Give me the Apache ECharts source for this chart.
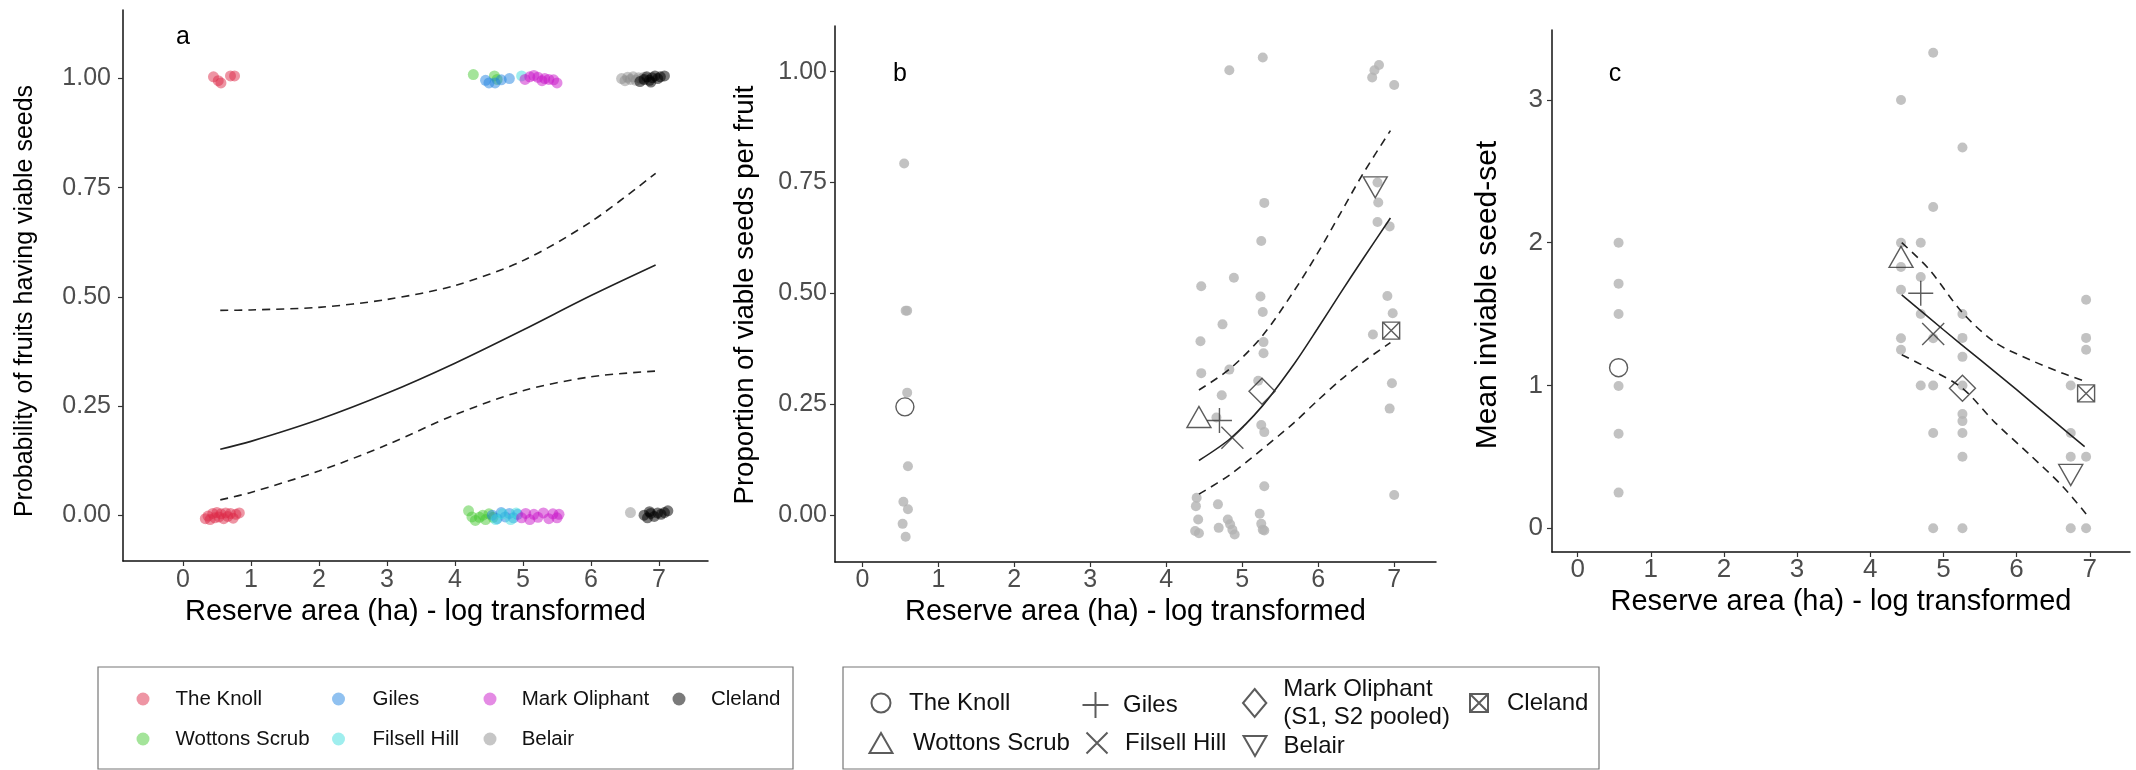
<!DOCTYPE html>
<html><head><meta charset="utf-8">
<script src="https://cdn.jsdelivr.net/npm/echarts@6/dist/echarts.min.js"></script>
<style>html,body{margin:0;padding:0;background:#fff}#c{width:2136px;height:770px}</style>
</head><body><div id="c"></div>
<script>
// ---------- DATA ----------
const sites = ['The Knoll','Wottons Scrub','Giles','Filsell Hill','Mark Oliphant','Belair','Cleland'];
const xTicks = [0,1,2,3,4,5,6,7];
const yTicksProb = [0,0.25,0.5,0.75,1];
const yTicksSeed = [0,1,2,3];

// Panel a: jittered binary outcomes [log area, outcome]
const jitKnoll = [[0.45,1.004],[0.52,0.995],[0.56,0.99],[0.70,1.006],[0.76,1.006],
  [0.33,-0.008],[0.37,-0.002],[0.40,-0.01],[0.44,0.004],[0.47,-0.006],[0.50,0.006],[0.53,-0.004],[0.56,0.003],
  [0.60,-0.008],[0.63,0.005],[0.66,-0.003],[0.70,0.004],[0.74,-0.007],[0.78,0.002],[0.83,0.005]];
const jitWottons = [[4.27,1.009],[4.58,1.006],[4.62,0.998],
  [4.20,0.01],[4.25,-0.004],[4.30,-0.012],[4.36,-0.005],[4.41,0.0],[4.45,-0.01],[4.50,0.003],[4.56,-0.005]];
const jitGiles = [[4.45,0.996],[4.50,0.99],[4.59,0.99],[4.68,0.997],[4.80,1.0],
  [4.55,0.0],[4.62,-0.008],[4.68,0.006],[4.74,-0.004],[4.80,0.004],[4.86,-0.006],[4.92,0.002]];
const jitFilsell = [[4.98,1.006],[4.60,-0.01],[4.70,0.003],[4.82,-0.01],[4.90,0.005]];
const jitMark = [[5.03,0.998],[5.10,1.004],[5.16,1.007],[5.22,1.003],[5.28,0.995],[5.32,1.0],[5.38,0.998],[5.45,0.997],[5.50,0.99],
  [4.98,-0.006],[5.04,0.004],[5.10,-0.01],[5.16,0.002],[5.22,-0.005],[5.30,0.005],[5.38,-0.008],[5.44,0.003],[5.50,-0.006],[5.53,0.002]];
const jitBelair = [[6.45,1.0],[6.50,0.995],[6.54,1.003],[6.58,0.998],[6.62,1.004],[6.66,0.996],[6.70,1.002],[6.74,0.999],[6.78,1.003],
  [6.58,0.006]];
const jitCleland = [[6.72,0.993],[6.78,0.998],[6.82,1.004],[6.86,0.996],[6.88,0.992],[6.90,1.002],[6.94,1.006],[6.98,1.0],[7.02,1.004],[7.08,1.006],
  [6.78,0.0],[6.83,-0.006],[6.86,0.008],[6.88,0.004],[6.93,-0.003],[6.98,0.005],[7.03,0.002],[7.08,0.006],[7.13,0.01]];
const jitterA = [jitKnoll, jitWottons, jitGiles, jitFilsell, jitMark, jitBelair, jitCleland];

// Panel a: fitted curve and confidence band
const curveAx = [0.55,1,2,3,4,5,6,6.95];
const curveAfit = [0.151,0.169,0.219,0.279,0.348,0.424,0.503,0.573];
const curveAup  = [0.469,0.47,0.476,0.494,0.526,0.583,0.672,0.783];
const curveAlo  = [0.035,0.052,0.101,0.161,0.23,0.285,0.317,0.33];

// Panel b: proportions per fruit (grey points)
const pointsB = [
  [0.55,0.793],[0.57,0.461],[0.59,0.461],[0.59,0.276],[0.60,0.11],[0.54,0.03],[0.60,0.013],[0.53,-0.02],[0.57,-0.049],
  [4.46,0.516],[4.45,0.392],[4.46,0.32],[4.40,0.039],[4.39,0.02],[4.42,-0.01],[4.38,-0.036],[4.43,-0.041],
  [4.74,0.43],[4.73,0.27],[4.66,0.22],[4.68,0.024],[4.69,-0.029],
  [4.83,1.003],[4.89,0.535],[4.83,0.328],[4.81,-0.01],[4.84,-0.021],[4.87,-0.033],[4.90,-0.044],
  [5.27,1.032],[5.29,0.704],[5.25,0.618],[5.24,0.493],[5.27,0.458],[5.28,0.39],[5.28,0.365],[5.21,0.303],[5.25,0.203],
  [5.29,0.187],[5.29,0.065],[5.23,0.003],[5.25,-0.02],[5.27,-0.033],[5.29,-0.035],
  [6.71,0.987],[6.74,1.003],[6.80,1.015],[6.78,0.75],[6.79,0.705],[6.78,0.661],[6.72,0.407],
  [7.00,0.97],[6.94,0.651],[6.91,0.494],[6.98,0.455],[6.97,0.297],[6.94,0.24],[7.00,0.045]];
// Panel b: site means (in site order)
const meansB = [[0.56,0.244],[4.43,0.221],[4.70,0.213],[4.87,0.174],[5.26,0.279],[6.75,0.739],[6.96,0.416]];
const curveBx = [4.43,4.84,5.26,5.68,5.99,6.29,6.59,6.95];
const curveBfit = [0.123,0.172,0.245,0.34,0.42,0.50,0.578,0.67];
const curveBup  = [0.282,0.33,0.403,0.505,0.59,0.68,0.77,0.867];
const curveBlo  = [0.047,0.091,0.148,0.208,0.258,0.304,0.345,0.389];

// Panel c: mean inviable seed-set (grey points)
const pointsC = [
  [0.56,2.0],[0.56,1.713],[0.56,1.5],[0.56,0.996],[0.56,0.662],[0.56,0.249],
  [4.42,3.0],[4.42,2.0],[4.42,1.83],[4.42,1.67],[4.42,1.33],[4.42,1.25],
  [4.69,2.0],[4.69,1.76],[4.69,1.5],[4.69,1.0],
  [4.86,3.33],[4.86,2.25],[4.86,1.33],[4.86,1.0],[4.86,0.667],[4.86,0],
  [5.26,2.667],[5.26,1.5],[5.26,1.333],[5.26,1.2],[5.26,1.0],[5.26,0.8],[5.26,0.75],[5.26,0.667],[5.26,0.5],[5.26,0],
  [6.74,1.0],[6.74,0.667],[6.74,0.5],[6.74,0],
  [6.95,1.6],[6.95,1.333],[6.95,1.25],[6.95,0.5],[6.95,0]];
const meansC = [[0.56,1.124],[4.42,1.90],[4.69,1.646],[4.86,1.36],[5.26,0.98],[6.74,0.373],[6.95,0.944]];
const curveCx = [4.43,5.0,5.5,6.0,6.5,6.93];
const curveCfit = [1.634,1.39,1.18,0.97,0.755,0.571];
const curveCbx = [4.43,4.8,5.26,5.71,6.19,6.62,6.95];
const curveCup = [2.0,1.816,1.51,1.30,1.178,1.087,1.026];
const curveClo = [1.215,1.118,0.98,0.738,0.51,0.298,0.10];

// ---------- STYLE ----------
const FONT = 'Liberation Sans, Arial, Helvetica, sans-serif';
const siteColors = ['rgba(220,40,70,0.62)','rgba(70,200,50,0.62)','rgba(30,130,225,0.62)','rgba(60,220,220,0.62)',
  'rgba(200,20,200,0.62)','rgba(140,140,140,0.62)','rgba(0,0,0,0.65)'];
const shapes = [
  'circle',
  'path://M0,20L11.5,0L23,20Z',
  'path://M10,0L10,20M0,10L20,10',
  'path://M0,0L20,20M20,0L0,20',
  'path://M10,0L20,12L10,24L0,12Z',
  'path://M0,0L23,0L11.5,20Z',
  'path://M0,0L20,0L20,20L0,20ZM0,0L20,20M20,0L0,20'];
const shapeSizeB = [18,[24,21],25,[22,22],[26,26],[24,21],[17,17]];
const legend2Sizes = [[19,19],[23,22],[28,26],[21,21],[24,28],[23,21],[18,18]];
const legend2Labels = {'The Knoll':'The Knoll','Wottons Scrub':'Wottons Scrub','Giles':'Giles','Filsell Hill':'Filsell Hill',
  'Mark Oliphant':'Mark Oliphant\n(S1, S2 pooled)','Belair':'Belair','Cleland':'Cleland'};

const zip = (xs, ys) => xs.map((x, i) => [x, ys[i]]);
const lineStyleSolid = {color:'#222', width:1.6};
const lineStyleDash = {color:'#222', width:1.6, type:[8,6]};

function xAxis(gi, min, max, margin, nameGap) {
  return {type:'value', gridIndex:gi, min, max,
    name:'Reserve area (ha) - log transformed', nameLocation:'middle', nameGap,
    nameTextStyle:{fontSize:29, color:'#000', fontFamily:FONT},
    axisLine:{show:true, onZero:false, lineStyle:{color:'#111', width:1.5}},
    axisTick:{show:true, length:5, customValues:xTicks, lineStyle:{color:'#333', width:1.2}},
    axisLabel:{customValues:xTicks, margin, fontSize: gi===2?26:25, color:'#4d4d4d', fontFamily:FONT},
    splitLine:{show:false}};
}
function yAxis(gi, min, max, ticks, margin, fs, fmt) {
  return {type:'value', gridIndex:gi, min, max,
    axisLine:{show:true, onZero:false, lineStyle:{color:'#111', width:1.5}},
    axisTick:{show:true, length:5, customValues:ticks, lineStyle:{color:'#333', width:1.2}},
    axisLabel:{customValues:ticks, margin, fontSize:fs, color:'#4d4d4d', fontFamily:FONT, formatter:fmt},
    splitLine:{show:false}};
}
const fmt2 = v => v.toFixed(2);

const series = [];
function lines(gi, xs, fit, xsb, up, lo) {
  const base = {type:'line', xAxisIndex:gi, yAxisIndex:gi, showSymbol:false, symbol:'none', smooth:0.3, silent:true, z:3};
  series.push(Object.assign({}, base, {data:zip(xs, fit), lineStyle:lineStyleSolid}));
  series.push(Object.assign({}, base, {data:zip(xsb, up), lineStyle:lineStyleDash}));
  series.push(Object.assign({}, base, {data:zip(xsb, lo), lineStyle:lineStyleDash}));
}
// panel a
lines(0, curveAx, curveAfit, curveAx, curveAup, curveAlo);
sites.forEach((s, i) => series.push({type:'scatter', name:s, xAxisIndex:0, yAxisIndex:0, data:jitterA[i],
  symbol:'circle', symbolSize:11, itemStyle:{color:siteColors[i]}, z:4}));
// panel b
series.push({type:'scatter', name:'grey b', xAxisIndex:1, yAxisIndex:1, data:pointsB, symbolSize:10,
  itemStyle:{color:'#b3b3b3'}, z:2});
lines(1, curveBx, curveBfit, curveBx, curveBup, curveBlo);
// panel c
series.push({type:'scatter', name:'grey c', xAxisIndex:2, yAxisIndex:2, data:pointsC, symbolSize:10,
  itemStyle:{color:'#b3b3b3'}, z:2});
lines(2, curveCx, curveCfit, curveCbx, curveCup, curveClo);
// site means markers in b and c
[[1, meansB],[2, meansC]].forEach(([gi, means]) => {
  sites.forEach((s, i) => series.push({type:'scatter', name:'m:'+s, xAxisIndex:gi, yAxisIndex:gi,
    data:[means[i]], symbol:shapes[i], symbolSize:shapeSizeB[i],
    itemStyle:{color:'rgba(0,0,0,0)', borderColor:'#333', borderWidth:1.4}, z:5}));
});

// ---------- LEGENDS (one component per entry, placed in a grid) ----------
const legends = [];
function labelOf(n) { return n.indexOf('m:') === 0 ? legend2Labels[n.slice(2)] : n; }
function mkLegend(name, cx, cy, iw, ih, textX, fs, lh, nLines) {
  const h = Math.max(ih, lh * nLines);
  legends.push({data:[name], orient:'vertical', left:cx - iw/2, top:cy - h/2, padding:0,
    itemWidth:iw, itemHeight:ih, selectedMode:false,
    formatter: labelOf,
    textStyle:{fontSize:fs, lineHeight:lh, color:'#111', fontFamily:FONT, padding:[0,0,0, textX - (cx + iw/2 + 5)]}});
}
const l1cx = [143, 143, 338.5, 338.5, 490, 490, 679];
const l1cy = [699, 739, 699, 739, 699, 739, 699];
const l1tx = [175.5, 175.5, 372.5, 372.5, 521.7, 521.7, 711];
sites.forEach((s, i) => mkLegend(s, l1cx[i], l1cy[i], 13, 13, l1tx[i], 20.5, 24, 1));
const l2cx = [880, 880, 1095.5, 1096, 1254, 1254, 1478];
const l2cy = [703, 743, 705, 743, 703, 746, 703];
const l2tx = [908, 912, 1123, 1124, 1282.5, 1282.5, 1506];
sites.forEach((s, i) => mkLegend('m:'+s, l2cx[i], l2cy[i], legend2Sizes[i][0], legend2Sizes[i][1], l2tx[i], 24, 28,
  s === 'Mark Oliphant' ? 2 : 1));

const option = {
  animation:false,
  backgroundColor:'#fff',
  textStyle:{fontFamily:FONT},
  grid:[
    {left:123, top:10, width:585, height:551, outerBoundsMode:'none'},
    {left:835, top:26, width:601, height:536, outerBoundsMode:'none'},
    {left:1552, top:30, width:578, height:522, outerBoundsMode:'none'}],
  xAxis:[xAxis(0, -0.88, 7.72, 7, 35), xAxis(1, -0.36, 7.55, 6, 32), xAxis(2, -0.35, 7.55, 5, 34)],
  yAxis:[yAxis(0, -0.105, 1.157, yTicksProb, 12, 25, fmt2),
         yAxis(1, -0.106, 1.103, yTicksProb, 8, 25, fmt2),
         yAxis(2, -0.167, 3.49, yTicksSeed, 9, 26, v => String(v))],
  legend:legends,
  series,
  graphic:[
    {type:'text', x:25, y:301, rotation:Math.PI/2, style:{text:'Probability of fruits having viable seeds', font:'25px '+FONT, fill:'#000', align:'center', verticalAlign:'middle'}},
    {type:'text', x:745, y:295, rotation:Math.PI/2, style:{text:'Proportion of viable seeds per fruit', font:'27.5px '+FONT, fill:'#000', align:'center', verticalAlign:'middle'}},
    {type:'text', x:1488, y:295, rotation:Math.PI/2, style:{text:'Mean inviable seed-set', font:'30px '+FONT, fill:'#000', align:'center', verticalAlign:'middle'}},
    {type:'text', x:183, y:37, style:{text:'a', font:'25px '+FONT, fill:'#000', align:'center', verticalAlign:'middle'}},
    {type:'text', x:900, y:74, style:{text:'b', font:'25px '+FONT, fill:'#000', align:'center', verticalAlign:'middle'}},
    {type:'text', x:1615, y:74, style:{text:'c', font:'25px '+FONT, fill:'#000', align:'center', verticalAlign:'middle'}},
    {type:'rect', shape:{x:98, y:667, width:695, height:102}, style:{fill:'none', stroke:'#777', lineWidth:1.2}, z:-1},
    {type:'rect', shape:{x:843, y:667, width:756, height:102}, style:{fill:'none', stroke:'#777', lineWidth:1.2}, z:-1}
  ]
};
const chart = echarts.init(document.getElementById('c'), null, {renderer:'canvas'});
chart.setOption(option);
</script></body></html>
